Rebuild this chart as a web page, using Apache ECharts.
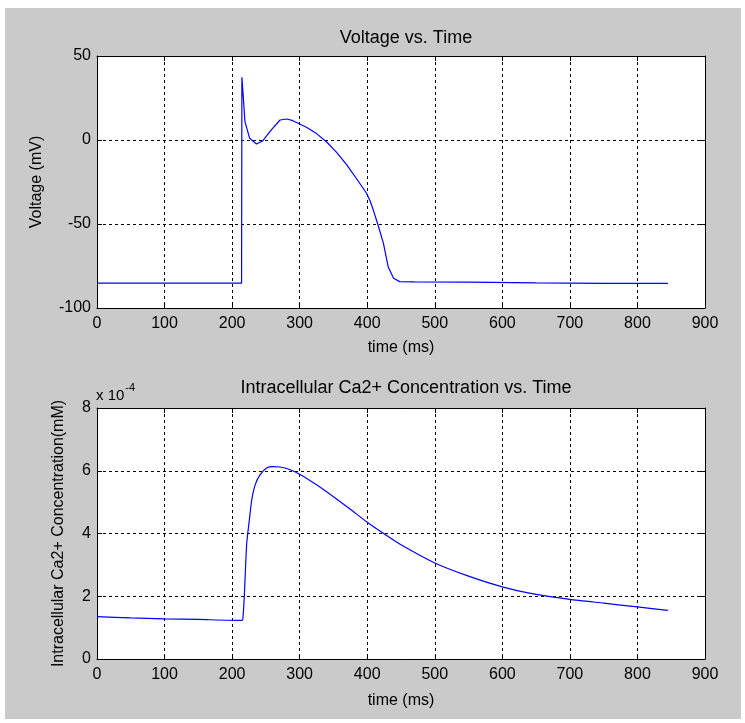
<!DOCTYPE html>
<html>
<head>
<meta charset="utf-8">
<script src="https://cdn.jsdelivr.net/npm/echarts@6/dist/echarts.min.js"></script>
<style>html,body{margin:0;padding:0;background:#fff}#c{width:745px;height:723px}</style>
</head>
<body>
<div id="c"></div>
<script>
// ---- Data ----
var voltTime = [0, 100, 200, 214, 214.5, 216.5, 219, 226, 236, 245, 251, 258, 271, 281, 290, 310, 325, 340, 355, 370, 385, 399, 404, 409, 416, 424, 431, 439, 448, 470, 550, 650, 750, 845];
var voltage  = [-85.2, -85.2, -85.2, -85.2, 37.3, 25.8, 10.9, 1.0, -2.4, -0.6, 2.4, 6.0, 11.9, 12.5, 11.5, 7.6, 3.8, -1.2, -7.5, -15.0, -23.5, -31.7, -36.0, -41.7, -50.6, -61.5, -75.4, -82.3, -84.3, -84.5, -84.6, -85.1, -85.3, -85.3];

var caTime = [0, 50, 100, 150, 215, 216, 218, 221.6, 225.5, 229, 234, 241, 251, 261, 271, 281, 300, 325, 350, 375, 400, 425, 450, 500, 550, 600, 650, 700, 750, 800, 845];
var caE4   = [1.35, 1.31, 1.28, 1.26, 1.23, 1.3, 1.98, 3.68, 4.43, 5.06, 5.54, 5.86, 6.09, 6.13, 6.12, 6.07, 5.89, 5.55, 5.17, 4.77, 4.36, 3.99, 3.64, 3.06, 2.64, 2.30, 2.06, 1.90, 1.78, 1.66, 1.55];

var xTicks = [0, 100, 200, 300, 400, 500, 600, 700, 800, 900];
var voltTicks = [-100, -50, 0, 50];
var caTicks = [0, 2, 4, 6, 8];

var titles = ['Voltage vs. Time', 'Intracellular Ca2+ Concentration vs. Time'];
var xName = 'time (ms)';
var yNames = ['Voltage (mV)', 'Intracellular Ca2+ Concentration(mM)'];

// ---- Chart ----
var FONT = '"Liberation Sans", Arial, sans-serif';
var chart = echarts.init(document.getElementById('c'), null, {renderer: 'canvas'});

function zip(a, b) { return a.map(function (v, i) { return [v, b[i]]; }); }

var grids = [
  {left: 97, top: 56, width: 608, height: 252},
  {left: 97, top: 408, width: 608, height: 251}
];

function mainX(gi, gap) {
  return {
    type: 'value', gridIndex: gi, position: 'bottom',
    min: xTicks[0], max: xTicks[xTicks.length - 1], interval: xTicks[1] - xTicks[0],
    name: xName, nameLocation: 'middle', nameGap: gap,
    nameTextStyle: {color: '#000', fontFamily: FONT, fontSize: 16},
    axisLine: {show: true, onZero: false, lineStyle: {color: '#000', width: 1}},
    axisTick: {show: true, inside: true, length: 5, lineStyle: {color: '#000'}},
    axisLabel: {color: '#000', fontFamily: FONT, fontSize: 16, margin: 8},
    splitLine: {show: true, lineStyle: {color: '#000', type: [3, 3], width: 1}}
  };
}
function topX(gi) {
  return {
    type: 'value', gridIndex: gi, position: 'top',
    min: xTicks[0], max: xTicks[xTicks.length - 1], interval: xTicks[1] - xTicks[0],
    axisLine: {show: true, onZero: false, lineStyle: {color: '#000', width: 1}},
    axisTick: {show: true, inside: true, length: 5, lineStyle: {color: '#000'}},
    axisLabel: {show: false}, splitLine: {show: false}
  };
}
function mainY(gi, ticks, name, gap) {
  return {
    type: 'value', gridIndex: gi, position: 'left',
    min: ticks[0], max: ticks[ticks.length - 1], interval: ticks[1] - ticks[0],
    name: name, nameLocation: 'middle', nameGap: gap, nameRotate: 90,
    nameTextStyle: {color: '#000', fontFamily: FONT, fontSize: 16},
    axisLine: {show: true, onZero: false, lineStyle: {color: '#000', width: 1}},
    axisTick: {show: true, inside: true, length: 5, lineStyle: {color: '#000'}},
    axisLabel: {color: '#000', fontFamily: FONT, fontSize: 16, margin: 6},
    splitLine: {show: true, lineStyle: {color: '#000', type: [3, 3], width: 1}}
  };
}
function rightY(gi, ticks) {
  return {
    type: 'value', gridIndex: gi, position: 'right',
    min: ticks[0], max: ticks[ticks.length - 1], interval: ticks[1] - ticks[0],
    axisLine: {show: true, onZero: false, lineStyle: {color: '#000', width: 1}},
    axisTick: {show: true, inside: true, length: 5, lineStyle: {color: '#000'}},
    axisLabel: {show: false}, splitLine: {show: false}
  };
}

var option = {
  backgroundColor: '#ffffff',
  animation: false,
  graphic: [
    {type: 'rect', z: -10, silent: true, shape: {x: 5, y: 8, width: 736, height: 711}, style: {fill: '#cacaca'}},
    {type: 'rect', z: -5, silent: true, shape: {x: 97, y: 56, width: 608, height: 252}, style: {fill: '#ffffff'}},
    {type: 'rect', z: -5, silent: true, shape: {x: 97, y: 408, width: 608, height: 251}, style: {fill: '#ffffff'}},
    {type: 'text', left: 96, top: 382, silent: true,
      style: {text: '{a|x 10}{b|-4}', rich: {
        a: {fontFamily: FONT, fontSize: 15, fill: '#000', padding: [6, 0, 0, 0]},
        b: {fontFamily: FONT, fontSize: 11, fill: '#000', verticalAlign: 'top', padding: [0, 0, 8, 1]}
      }}}
  ],
  title: [
    {text: titles[0], left: 401, top: 24, textAlign: 'center',
      textStyle: {color: '#000', fontFamily: FONT, fontSize: 18, fontWeight: 'normal'}},
    {text: titles[1], left: 401, top: 374, textAlign: 'center',
      textStyle: {color: '#000', fontFamily: FONT, fontSize: 18, fontWeight: 'normal'}}
  ],
  grid: grids,
  xAxis: [mainX(0, 32), topX(0), mainX(1, 34), topX(1)],
  yAxis: [mainY(0, voltTicks, yNames[0], 52), rightY(0, voltTicks), mainY(1, caTicks, yNames[1], 30), rightY(1, caTicks)],
  series: [
    {type: 'line', xAxisIndex: 0, yAxisIndex: 0, data: zip(voltTime, voltage), showSymbol: false,
      lineStyle: {color: '#0000ff', width: 1.2}, itemStyle: {color: '#0000ff'}},
    {type: 'line', xAxisIndex: 2, yAxisIndex: 2, data: zip(caTime, caE4), showSymbol: false, smooth: 0.2,
      lineStyle: {color: '#0000ff', width: 1.2}, itemStyle: {color: '#0000ff'}}
  ]
};
chart.setOption(option);
</script>
</body>
</html>
